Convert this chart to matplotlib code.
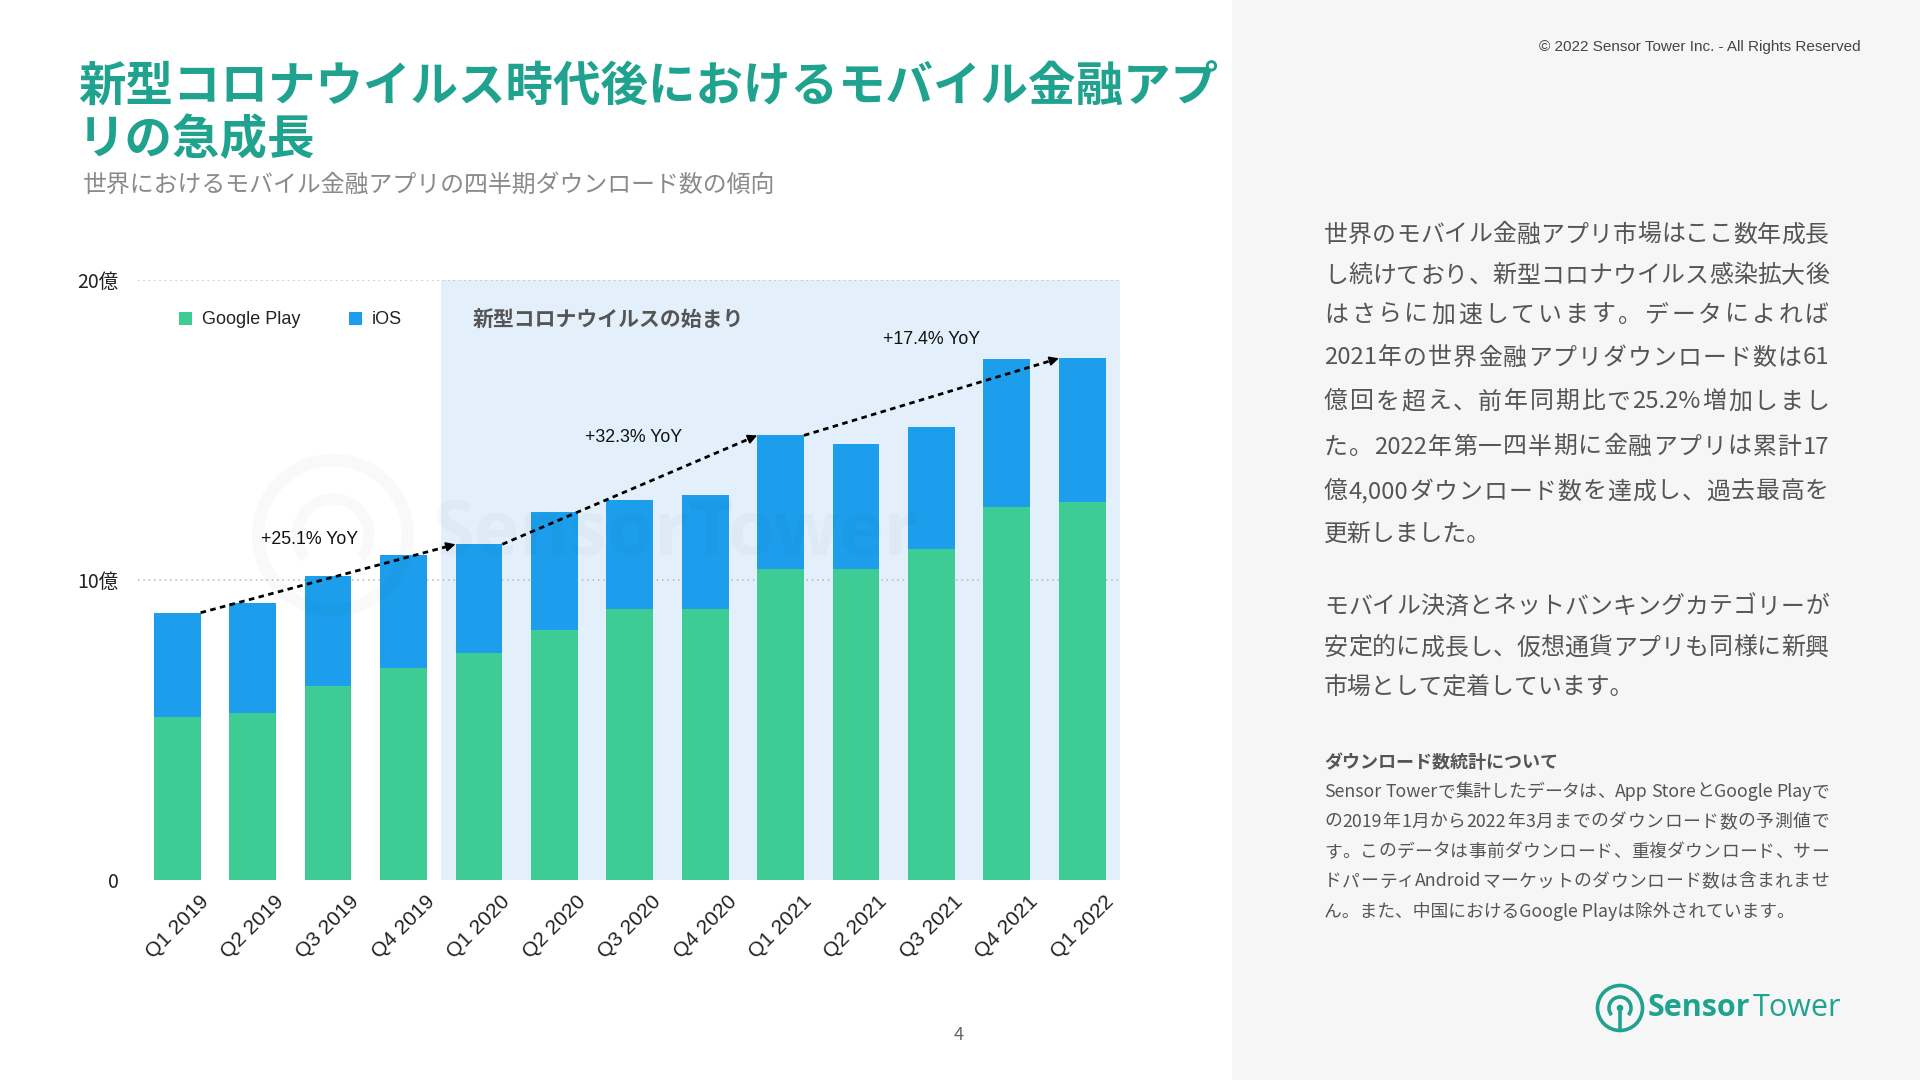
import matplotlib
matplotlib.use("Agg")
import matplotlib.pyplot as plt
from matplotlib.patches import Rectangle, Circle, Arc
import numpy as np
import re

plt.rcParams['font.family'] = ['Noto Sans CJK JP', 'DejaVu Sans']

# ---------------- data ----------------
quarters = ["Q1 2019", "Q2 2019", "Q3 2019", "Q4 2019",
            "Q1 2020", "Q2 2020", "Q3 2020", "Q4 2020",
            "Q1 2021", "Q2 2021", "Q3 2021", "Q4 2021", "Q1 2022"]
google_play = [5.42, 5.56, 6.47, 7.06, 7.57, 8.33, 9.02, 9.02, 10.36, 10.36, 11.02, 12.42, 12.59]
total = [8.91, 9.22, 10.12, 10.83, 11.19, 12.28, 12.66, 12.82, 14.82, 14.52, 15.09, 17.36, 17.39]
ios = [t - g for t, g in zip(total, google_play)]
ytick_vals = [0, 10, 20]
ytick_labels = ["0", "10億", "20億"]
series_names = ["Google Play", "iOS"]
yoy_labels = ["+25.1% YoY", "+32.3% YoY", "+17.4% YoY"]
yoy_pairs = [(0, 4), (4, 8), (8, 12)]
covid_start_index = 4
covid_label = "新型コロナウイルスの始まり"

title_lines = ["新型コロナウイルス時代後におけるモバイル金融アプ", "リの急成長"]
subtitle = "世界におけるモバイル金融アプリの四半期ダウンロード数の傾向"
para1 = ["世界のモバイル金融アプリ市場はここ数年成長",
         "し続けており、新型コロナウイルス感染拡大後",
         "はさらに加速しています。データによれば",
         "2021年の世界金融アプリダウンロード数は61",
         "億回を超え、前年同期比で25.2%増加しまし",
         "た。2022年第一四半期に金融アプリは累計17",
         "億4,000ダウンロード数を達成し、過去最高を",
         "更新しました。"]
para2 = ["モバイル決済とネットバンキングカテゴリーが",
         "安定的に成長し、仮想通貨アプリも同様に新興",
         "市場として定着しています。"]
note_head = "ダウンロード数統計について"
note_lines = ["Sensor Towerで集計したデータは、App StoreとGoogle Playで",
              "の2019年1月から2022年3月までのダウンロード数の予測値で",
              "す。このデータは事前ダウンロード、重複ダウンロード、サー",
              "ドパーティAndroidマーケットのダウンロード数は含まれませ",
              "ん。また、中国におけるGoogle Playは除外されています。"]
copyright_text = "© 2022 Sensor Tower Inc. - All Rights Reserved"
page_no = "4"

GREEN = "#3ecb94"
BLUE = "#1c9eec"
SHADE = "#e3f0fb"
TEAL = "#1fa38f"
TXT = "#555555"
LATIN = ["Liberation Sans", "Noto Sans CJK JP"]

W, H = 1920, 1080
fig = plt.figure(figsize=(19.2, 10.8), dpi=100)
fig.patch.set_facecolor("white")
renderer = fig.canvas.get_renderer()

def fx(x):
    return x / W

def fy(y):
    return 1 - y / H

# right panel background
fig.add_artist(Rectangle((fx(1232), 0), 1 - fx(1232), 1, transform=fig.transFigure,
                         facecolor="#f6f6f6", edgecolor="none", zorder=0))

# ---------------- chart ----------------
ax = fig.add_axes([fx(138), fy(880), fx(1120) - fx(138), fy(280) - fy(880)])
ax.set_facecolor("none")
n = len(quarters)
x = np.arange(n)
bw = 0.62
ax.set_xlim(-0.52, n - 0.5)
ax.set_ylim(0, 20)

ax.axvspan(covid_start_index - 0.5, n - 0.5, color=SHADE, zorder=0, lw=0)
for v in ytick_vals[1:]:
    ax.axhline(v, color="#b5b5b5", lw=1.1, ls=(0, (1, 2.5)), zorder=1)

ax.bar(x, google_play, width=bw, color=GREEN, zorder=2, label=series_names[0])
ax.bar(x, ios, width=bw, bottom=google_play, color=BLUE, zorder=2, label=series_names[1])

for sp in ax.spines.values():
    sp.set_visible(False)
ax.set_xticks([])
ax.set_yticks(ytick_vals)
ax.set_yticklabels(ytick_labels, fontsize=14, color="#222222")
ax.tick_params(axis="y", length=0, pad=14)

for i, q in enumerate(quarters):
    ax.text(i, -0.078, q, transform=ax.get_xaxis_transform(), rotation=45,
            ha="center", va="center", fontsize=15, color="#222222", family=LATIN)

# YoY arrows
for (a, b), lab in zip(yoy_pairs, yoy_labels):
    x0, y0 = a + bw / 2, total[a]
    x1, y1 = b - bw / 2, total[b]
    slope = (y1 - y0) / (x1 - x0)
    ax.plot([x0, x1 - 0.06], [y0, y1 - 0.06 * slope],
            color="black", lw=2, ls=(0, (2, 1.6)), zorder=4, solid_capstyle="butt")
    ax.annotate("", xy=(x1, y1), xytext=(x1 - 0.12, y1 - 0.12 * slope),
                arrowprops=dict(arrowstyle="-|>", color="black", lw=1.2,
                                mutation_scale=14, shrinkA=0, shrinkB=0), zorder=5)

yoy_pos = [(1.75, 11.35), (6.05, 14.75), (10.0, 18.03)]
for (px, py), lab in zip(yoy_pos, yoy_labels):
    ax.text(px, py, lab, ha="center", va="center", fontsize=12.8, color="#111111",
            zorder=5, family=LATIN)

ax.text(3.92, 18.65, covid_label, ha="left", va="center", fontsize=15,
        fontweight="bold", color="#555555", zorder=5)

# legend (manual)
fig.add_artist(Rectangle((fx(179), fy(325)), fx(13), 13 / H, transform=fig.transFigure,
                         facecolor=GREEN, edgecolor="none"))
fig.text(fx(202), fy(319), series_names[0], fontsize=13, color="#222222", va="center",
         ha="left", family=LATIN)
fig.add_artist(Rectangle((fx(349), fy(325)), fx(13), 13 / H, transform=fig.transFigure,
                         facecolor=BLUE, edgecolor="none"))
fig.text(fx(372), fy(319), series_names[1], fontsize=13, color="#222222", va="center",
         ha="left", family=LATIN)

# overlay axes in pixel coords (watermark + logo)
wax = fig.add_axes([0, 0, 1, 1], zorder=6)
wax.set_xlim(0, W)
wax.set_ylim(H, 0)
wax.axis("off")
wax.set_facecolor("none")
wm_c = (333, 535)
wax.add_patch(Circle(wm_c, 75, fill=False, lw=9, ec="#000000", alpha=0.025))
wax.add_patch(Arc(wm_c, 72, 72, theta1=140, theta2=400, lw=8, ec="#000000", alpha=0.025))
wax.text(432, 535, "SensorTower", fontsize=55, fontweight="bold", color="#000000",
         alpha=0.025, ha="left", va="center", family="Open Sans")

lc = (1620, 1008)
wax.add_patch(Circle(lc, 22.5, fill=False, lw=2.6, ec=TEAL))
wax.add_patch(Arc(lc, 22, 22, theta1=140, theta2=400, lw=2.6, ec=TEAL))
wax.plot([lc[0], lc[0]], [lc[1] - 1, lc[1] + 22], color=TEAL, lw=2.6, solid_capstyle="butt")
wax.add_patch(Circle(lc, 2.6, color=TEAL))
t1 = wax.text(1648, 1008, "Sensor", fontsize=22, fontweight="bold", color=TEAL,
              ha="left", va="center", family="Open Sans")
bb = t1.get_window_extent(renderer=renderer)
fig.text((bb.x1 + 2) / W, fy(1008), "Tower", fontsize=22, color=TEAL,
         ha="left", va="center", family="Open Sans")

# ---------------- header text ----------------
fig.text(fx(78), fy(88), title_lines[0], fontsize=34.2, fontweight="bold", color=TEAL,
         ha="left", va="center")
fig.text(fx(78), fy(140), title_lines[1], fontsize=34.2, fontweight="bold", color=TEAL,
         ha="left", va="center")
fig.text(fx(83), fy(185), subtitle, fontsize=17.2, color="#8a8a8a", ha="left", va="center")

fig.text(fx(1861), fy(47), copyright_text, fontsize=11, color="#444444",
         ha="right", va="center", family=LATIN)
fig.text(fx(959), fy(1035), page_no, fontsize=13, color="#666666", ha="center", va="center")

# ---------------- right panel text (justified) ----------------
def tokens(s):
    return re.findall(r"[A-Za-z0-9.,%]+|\s|.", s)

def justified(line, x0, x1, y, size, weight="normal", justify=True):
    if not justify:
        fig.text(fx(x0), fy(y), line, fontsize=size, color=TXT, ha="left", va="center",
                 fontweight=weight)
        return
    toks = tokens(line)
    widths = []
    for tk in toks:
        t = fig.text(0, 0, tk.replace(" ", "\u00a0") if tk == " " else tk,
                     fontsize=size, fontweight=weight)
        widths.append(t.get_window_extent(renderer=renderer).width)
        t.remove()
    total_w = sum(widths)
    gap = (x1 - x0 - total_w) / max(len(toks) - 1, 1)
    gap = max(gap, 0)
    cx = x0
    for tk, w in zip(toks, widths):
        if tk.strip():
            fig.text(fx(cx), fy(y), tk, fontsize=size, color=TXT, ha="left", va="center",
                     fontweight=weight)
        cx += w + gap

para1_y = [235, 276, 315, 358, 402, 447, 492, 535]
for k, (ln, yy) in enumerate(zip(para1, para1_y)):
    justified(ln, 1324, 1829, yy, 17.2, justify=(k < len(para1) - 1))
para2_y = [607, 648, 687]
for k, (ln, yy) in enumerate(zip(para2, para2_y)):
    justified(ln, 1324, 1829, yy, 17.2, justify=(k < len(para2) - 1))

fig.text(fx(1324), fy(762), note_head, fontsize=13, fontweight="bold", color=TXT,
         ha="left", va="center")
y = 792
for k, ln in enumerate(note_lines):
    justified(ln, 1324, 1829, y, 12.8, justify=(k < len(note_lines) - 1))
    y += 29.8

fig.savefig("out.png", dpi=100)
